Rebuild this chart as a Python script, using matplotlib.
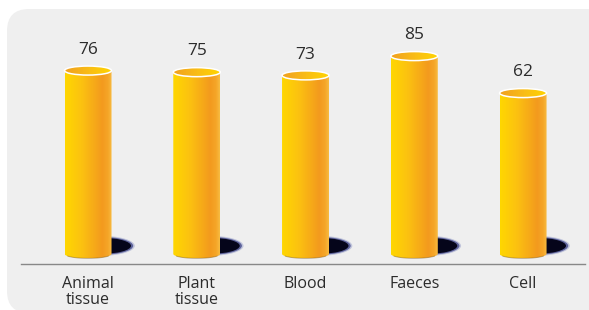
#Cilindros 3D - muestras
import matplotlib.pyplot as plt
import numpy as np
from matplotlib.patches import Ellipse, FancyBboxPatch, PathPatch
from matplotlib.path import Path
from matplotlib.colors import LinearSegmentedColormap

#----------Datos----------#
categories = ['Animal\ntissue', 'Plant\ntissue', 'Blood', 'Faeces', 'Cell']
values = [76, 75, 73, 85, 62]

#----------Estilo----------#
plt.rcParams['font.family'] = ['Open Sans', 'DejaVu Sans']
text_color = '#2b2b2b'
base = -38.0          # donde arranca el cilindro (eje no empieza en 0)
bar_w = 0.432         # ancho en unidades de x
cap_h = 5.6           # alto de la elipse en unidades de y

body_cmap = LinearSegmentedColormap.from_list('body', [
    (0.0, '#FFD700'), (0.35, '#FCC210'), (0.8, '#F39A1E'),
    (0.92, '#F5A628'), (1.0, '#F8BC42')])
cap_cmap = LinearSegmentedColormap.from_list('cap', [
    (0.0, '#F0A020'), (0.5, '#F9BC16'), (1.0, '#FFD400')])
grad = np.linspace(0, 1, 256).reshape(1, -1)

fig = plt.figure(figsize=(5.89, 3.10), dpi=100)
fig.patch.set_facecolor('white')
bg = FancyBboxPatch((0.07, -0.03), 6.1, 3.04,
                    boxstyle='round,pad=0,rounding_size=0.22',
                    transform=fig.dpi_scale_trans,
                    facecolor='#efefef', edgecolor='none', zorder=-5)
fig.patches.append(bg)

ax = fig.add_axes([0.0357, 0.1484, 0.9576, 0.819])
ax.patch.set_alpha(0)
ax.set_zorder(1)

# Dibuja cada cilindro
for i, v in enumerate(values):
    xc = i
    x0, x1 = xc - bar_w / 2, xc + bar_w / 2
    a, b = bar_w / 2, cap_h / 2

    # sombra (bordes difusos azulados)
    sx, sy = xc + 0.12, base + 5.0
    ax.add_patch(Ellipse((sx, sy), 0.62, 12.5, facecolor='#3a4aa0',
                         alpha=0.25, edgecolor='none', zorder=1))
    ax.add_patch(Ellipse((sx, sy), 0.59, 11.2, facecolor='#1a2070',
                         alpha=0.6, edgecolor='none', zorder=1.1))
    ax.add_patch(Ellipse((sx, sy), 0.55, 10.0, facecolor='#05051a',
                         edgecolor='none', zorder=1.2))

    # cuerpo
    t = np.linspace(np.pi, 2 * np.pi, 60)
    arc = np.column_stack([xc + a * np.cos(t), base + b * np.sin(t)])
    verts = np.vstack([[x0, v], [x0, base], arc, [x1, v], [x0, v]])
    codes = [Path.MOVETO] + [Path.LINETO] * (len(verts) - 2) + [Path.CLOSEPOLY]
    body = PathPatch(Path(verts, codes), facecolor='none', edgecolor='none')
    ax.add_patch(body)
    im = ax.imshow(grad, cmap=body_cmap, extent=[x0, x1, base - b, v],
                   aspect='auto', zorder=2, interpolation='bilinear')
    im.set_clip_path(body)
    ax.plot(arc[10:50, 0], arc[10:50, 1], color='#7a5510', lw=0.7,
            alpha=0.45, zorder=2.1)

    # tapa
    cap = Ellipse((xc, v), bar_w, cap_h, facecolor='none', edgecolor='none')
    ax.add_patch(cap)
    im2 = ax.imshow(grad, cmap=cap_cmap, extent=[x0, x1, v - b, v + b],
                    aspect='auto', zorder=3, interpolation='bilinear')
    im2.set_clip_path(cap)
    ax.add_patch(Ellipse((xc, v), bar_w, cap_h, facecolor='none',
                         edgecolor='white', lw=1.1, zorder=3.1))

    ax.annotate(str(v), (xc, v), xytext=(0, 15), textcoords='offset points',
                ha='center', va='center', fontsize=12.5, color=text_color)

ax.set_xlim(-0.616, 4.57)
ax.set_ylim(-44.3, 113.6)
ax.set_xticks(range(len(categories)))
ax.set_xticklabels(categories, fontsize=11.5, color=text_color, linespacing=0.95)
ax.tick_params(axis='x', length=0, pad=9)
ax.set_yticks([])
for s in ['top', 'left', 'right']:
    ax.spines[s].set_visible(False)
ax.spines['bottom'].set_color('#888888')
ax.spines['bottom'].set_linewidth(1.0)

fig.savefig('out.png', dpi=100)
